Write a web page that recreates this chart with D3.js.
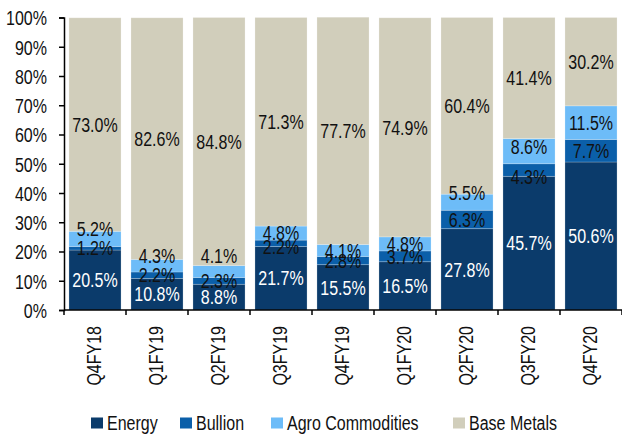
<!DOCTYPE html>
<html>
<head>
<meta charset="utf-8">
<script src="https://cdn.jsdelivr.net/npm/d3@7/dist/d3.min.js"></script>
<style>
  html, body { margin: 0; padding: 0; background: #fff; }
  svg { display: block; }
  text { font-family: "Liberation Sans", Arial, sans-serif; font-size: 20px; fill: #111; }
</style>
</head>
<body>
<svg id="chart" width="622" height="439"></svg>
<script>
// Quarterly segment mix (% of turnover)
const quarters = ["Q4FY18", "Q1FY19", "Q2FY19", "Q3FY19", "Q4FY19", "Q1FY20", "Q2FY20", "Q3FY20", "Q4FY20"];
const energy     = [20.5, 10.8, 8.8, 21.7, 15.5, 16.5, 27.8, 45.7, 50.6];
const bullion    = [1.2, 2.2, 2.3, 2.2, 2.8, 3.7, 6.3, 4.3, 7.7];
const agro       = [5.2, 4.3, 4.1, 4.8, 4.1, 4.8, 5.5, 8.6, 11.5];
const baseMetals = [73.0, 82.6, 84.8, 71.3, 77.7, 74.9, 60.4, 41.4, 30.2];
const seriesNames = ["Energy", "Bullion", "Agro Commodities", "Base Metals"];
const yTicks = [0, 10, 20, 30, 40, 50, 60, 70, 80, 90, 100];

const colors = ["#0b3b6b", "#0b5fa9", "#6dbcf8", "#d1cebb"];
const labelColors = ["#ffffff", "#111111", "#111111", "#111111"];

// condensed look: squeeze glyphs horizontally
const SQ = 0.8;

// small vertical nudges (px) for crowded labels, keyed "series|quarter"
const labelNudge = {
  "2|0": -10, "2|1": -10, "2|2": -16, "2|6": -9, "2|7": -4, "1|7": 7, "1|3": 3
};

const svg = d3.select("#chart");
const margin = { left: 64, right: 0, top: 17.5, bottom: 129 };
const W = 622, H = 439;

const x = d3.scaleBand()
  .domain(quarters)
  .range([margin.left, W - margin.right])
  .paddingInner(0.16)
  .paddingOuter(0.08);

const y = d3.scaleLinear()
  .domain([0, 100])
  .range([H - margin.bottom, margin.top]);

const rows = quarters.map((q, i) => ({
  q, Energy: energy[i], Bullion: bullion[i], "Agro Commodities": agro[i], "Base Metals": baseMetals[i]
}));

const stacked = d3.stack().keys(seriesNames)(rows);

// bars
const g = svg.append("g");
stacked.forEach((layer, si) => {
  g.selectAll(null)
    .data(layer)
    .join("rect")
    .attr("x", d => x(d.data.q))
    .attr("width", x.bandwidth())
    .attr("y", d => y(d[1]))
    .attr("height", d => y(d[0]) - y(d[1]))
    .attr("fill", colors[si])
    .attr("stroke", "rgba(255,255,255,0.28)")
    .attr("stroke-width", 0.8);
});

// value labels
stacked.forEach((layer, si) => {
  g.selectAll(null)
    .data(layer)
    .join("text")
    .attr("transform", (d, i) => {
      const cx = x(d.data.q) + x.bandwidth() / 2;
      const cy = y((d[0] + d[1]) / 2) + (labelNudge[si + "|" + i] || 0);
      return `translate(${cx},${cy}) scale(${SQ},1)`;
    })
    .attr("dy", "0.36em")
    .attr("text-anchor", "middle")
    .style("fill", labelColors[si])
    .text(d => (d[1] - d[0]).toFixed(1) + "%");
});

// y axis (line + ticks from d3, labels squeezed)
const yAxis = d3.axisLeft(y)
  .tickValues(yTicks)
  .tickFormat(d => d + "%")
  .tickSize(5)
  .tickPadding(12);
const ya = svg.append("g")
  .attr("transform", `translate(${margin.left},0)`)
  .call(yAxis);
ya.attr("font-family", null).attr("font-size", null);
ya.select(".domain").attr("stroke", "#000").attr("stroke-width", 1.5);
ya.selectAll(".tick line").attr("stroke", "#000").attr("stroke-width", 1.5);
ya.selectAll(".tick text")
  .attr("x", null)
  .attr("transform", `translate(-17,1) scale(${SQ},1)`)
  .attr("fill", null);

// x axis: baseline with ticks between categories
const xa = svg.append("g");
const y0 = y(0);
xa.append("line")
  .attr("x1", margin.left).attr("x2", W)
  .attr("y1", y0).attr("y2", y0)
  .attr("stroke", "#000").attr("stroke-width", 1.5);
const step = x.step();
const bounds = d3.range(quarters.length + 1).map(i => x(quarters[0]) - x.paddingOuter() * step + i * step);
xa.selectAll(null).data(bounds).join("line")
  .attr("x1", d => d).attr("x2", d => d)
  .attr("y1", y0).attr("y2", y0 + 5)
  .attr("stroke", "#000").attr("stroke-width", 1.5);
xa.selectAll(null).data(quarters).join("text")
  .attr("transform", d => `translate(${x(d) + x.bandwidth() / 2 - 1},${y0 + 16}) rotate(-90) scale(${SQ},1)`)
  .attr("text-anchor", "end")
  .attr("dy", "0.36em")
  .text(d => d);

// legend
const legendX = [91, 180, 271, 453];
const lg = svg.append("g").attr("transform", "translate(0,423)");
seriesNames.forEach((name, i) => {
  lg.append("rect")
    .attr("x", legendX[i]).attr("y", -5.5)
    .attr("width", 12).attr("height", 11)
    .attr("fill", colors[i]);
  lg.append("text")
    .attr("transform", `translate(${legendX[i] + 16},0) scale(${SQ},1)`)
    .attr("dy", "0.36em")
    .text(name);
});
</script>
</body>
</html>
